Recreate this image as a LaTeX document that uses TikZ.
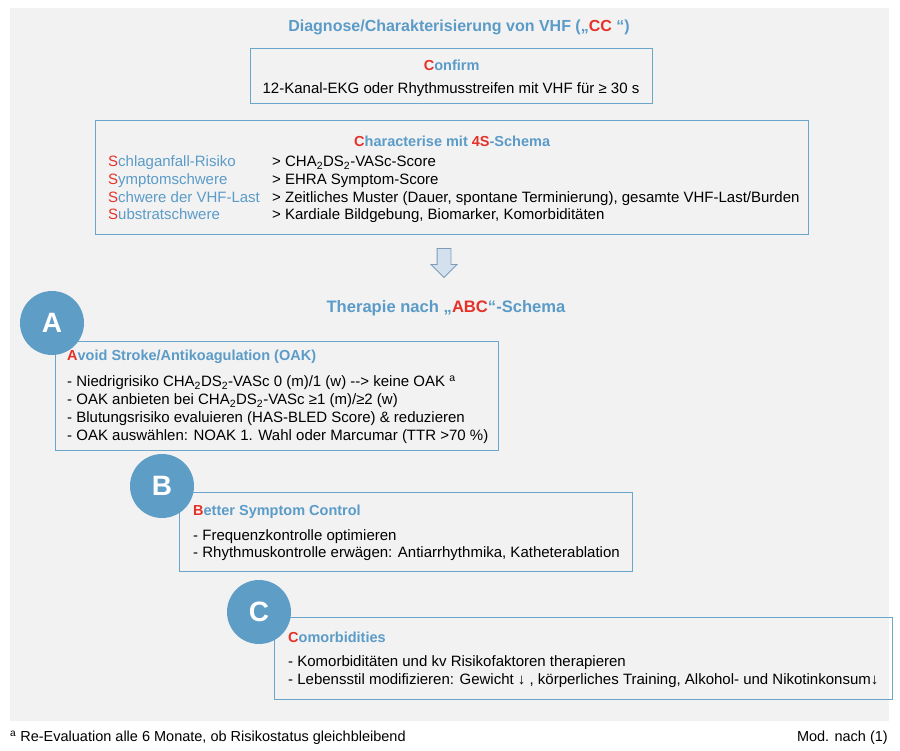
\documentclass[tikz,border=0pt]{standalone}
\usepackage{fontspec}
\setmainfont{Liberation Sans}
\usetikzlibrary{positioning,shapes.arrows}

\definecolor{bggray}{HTML}{F2F2F2}
\definecolor{vhfblue}{HTML}{5B9BC8}
\definecolor{boxblue}{HTML}{6AA5CC}
\definecolor{circblue}{HTML}{5E9DC6}
\definecolor{vhfred}{HTML}{E53228}
\definecolor{arrowfill}{HTML}{D3E1EF}
\definecolor{arrowline}{HTML}{7E9CB8}

\newcommand{\rd}[1]{\textcolor{vhfred}{#1}}
\newcommand{\chads}{CHA\textsubscript{2}DS\textsubscript{2}-VASc}

\begin{document}
\begin{tikzpicture}[x=1pt,y=-1pt,
  box/.style={draw=boxblue,line width=1.3pt,rectangle,inner sep=0pt,anchor=north west},
  circ/.style={circle,fill=circblue,text=white,minimum size=64pt,inner sep=0pt,
    font=\fontsize{28}{28}\selectfont\bfseries},
  head/.style={text=vhfblue,font=\fontsize{14.5}{17}\selectfont\bfseries,inner sep=0pt},
  bighead/.style={head,font=\fontsize{16}{19}\selectfont\bfseries},
  txt/.style={inner sep=0pt,anchor=west,text height=10.8pt,text depth=3.1pt,
    font=\fontsize{15}{18}\selectfont}]

 \useasboundingbox (0,0) rectangle (900,751);
 \fill[bggray] (10,8) rectangle (889,721);

 \node[bighead] (diag) at (459,27)
   {Diagnose/Charakterisierung von VHF („\rd{CC} “)};

% boxes
 \node[box,minimum width=402pt,minimum height=55pt] (confirm) at (250,48) {};
 \node[box,minimum width=713pt,minimum height=114pt] (charact) at (95,120) {};
 \node[box,minimum width=443pt,minimum height=109pt] (boxA) at (55,341) {};
 \node[box,minimum width=453pt,minimum height=79pt] (boxB) at (179,492) {};
 \node[box,minimum width=618pt,minimum height=82pt] (boxC) at (274,617) {};

% letters on top of the boxes
 \node[circ] (circA) at (52,323) {A};
 \node[circ] (circB) at (162,486) {B};
 \node[circ] (circC) at (259,612) {C};

 \node[head,below=12pt of confirm.north] (confirm_t) {\rd{C}onfirm};
 \node[txt,anchor=center] (confirm_l) at (451,90)
   {12-Kanal-EKG oder Rhythmusstreifen mit VHF für ≥ 30 s};

 \node[head,below=16pt of charact.north] (charact_t)
   {\rd{C}haracterise mit \rd{4S}-Schema};
 \foreach \lname/\rtext [count=\i] in {
   {\rd{S}chlaganfall-Risiko}/{> \chads-Score},
   {\rd{S}ymptomschwere}/{> EHRA Symptom-Score},
   {\rd{S}chwere der VHF-Last}/{> Zeitliches Muster (Dauer, spontane Terminierung), gesamte VHF-Last/Burden},
   {\rd{S}ubstratschwere}/{> Kardiale Bildgebung, Biomarker, Komorbiditäten}}
 {
  \node[txt,text=vhfblue] (sname\i) at (108,145.3+17.7*\i) {\lname};
  \node[txt] (stext\i) at (272,145.3+17.7*\i) {\rtext};
 }

 \node[single arrow,draw=arrowline,fill=arrowfill,line width=0.8pt,rotate=-90,
   minimum height=29pt,inner xsep=0pt,inner ysep=6.5pt,
   single arrow head extend=6pt] (flow) at (444,259.5) {};
 \node[bighead,font=\fontsize{16.6}{19}\selectfont\bfseries,below=22pt of flow.tip,xshift=2pt] (therapie)
   {Therapie nach „\rd{ABC}“-Schema};

% A
 \node[head,anchor=west] (A_t) at (67,357) {\rd{A}void Stroke/Antikoagulation (OAK)};
 \foreach \line [count=\i] in {
   {- Niedrigrisiko \chads\ 0 (m)/1 (w) -{}-> keine OAK \textsuperscript{a}},
   {- OAK anbieten bei \chads\ ≥1 (m)/≥2 (w)},
   {- Blutungsrisiko evaluieren (HAS-BLED Score) \& reduzieren},
   {- OAK auswählen: NOAK 1. Wahl oder Marcumar (TTR >70 \%)}}
  \node[txt] (A\i) at (67,365+18*\i) {\line};

% B
 \node[head,anchor=west] (B_t) at (193,512) {\rd{B}etter Symptom Control};
 \foreach \line [count=\i] in {
   {- Frequenzkontrolle optimieren},
   {- Rhythmuskontrolle erwägen: Antiarrhythmika, Katheterablation}}
  \node[txt] (B\i) at (193,520+17*\i) {\line};

% C
 \node[head,anchor=west] (C_t) at (288,637) {\rd{C}omorbidities};
 \foreach \line [count=\i] in {
   {- Komorbiditäten und kv Risikofaktoren therapieren},
   {- Lebensstil modifizieren: Gewicht ↓ , körperliches Training, Alkohol- und Nikotinkonsum↓}}
  \node[txt] (C\i) at (288,645+18*\i) {\line};

 \node[txt,font=\fontsize{14.5}{17}\selectfont] (foot) at (10,738)
   {\textsuperscript{a} Re-Evaluation alle 6 Monate, ob Risikostatus gleichbleibend};
 \node[txt,font=\fontsize{14.5}{17}\selectfont,anchor=east] (source) at (888,738) {Mod. nach (1)};
\end{tikzpicture}
\end{document}
